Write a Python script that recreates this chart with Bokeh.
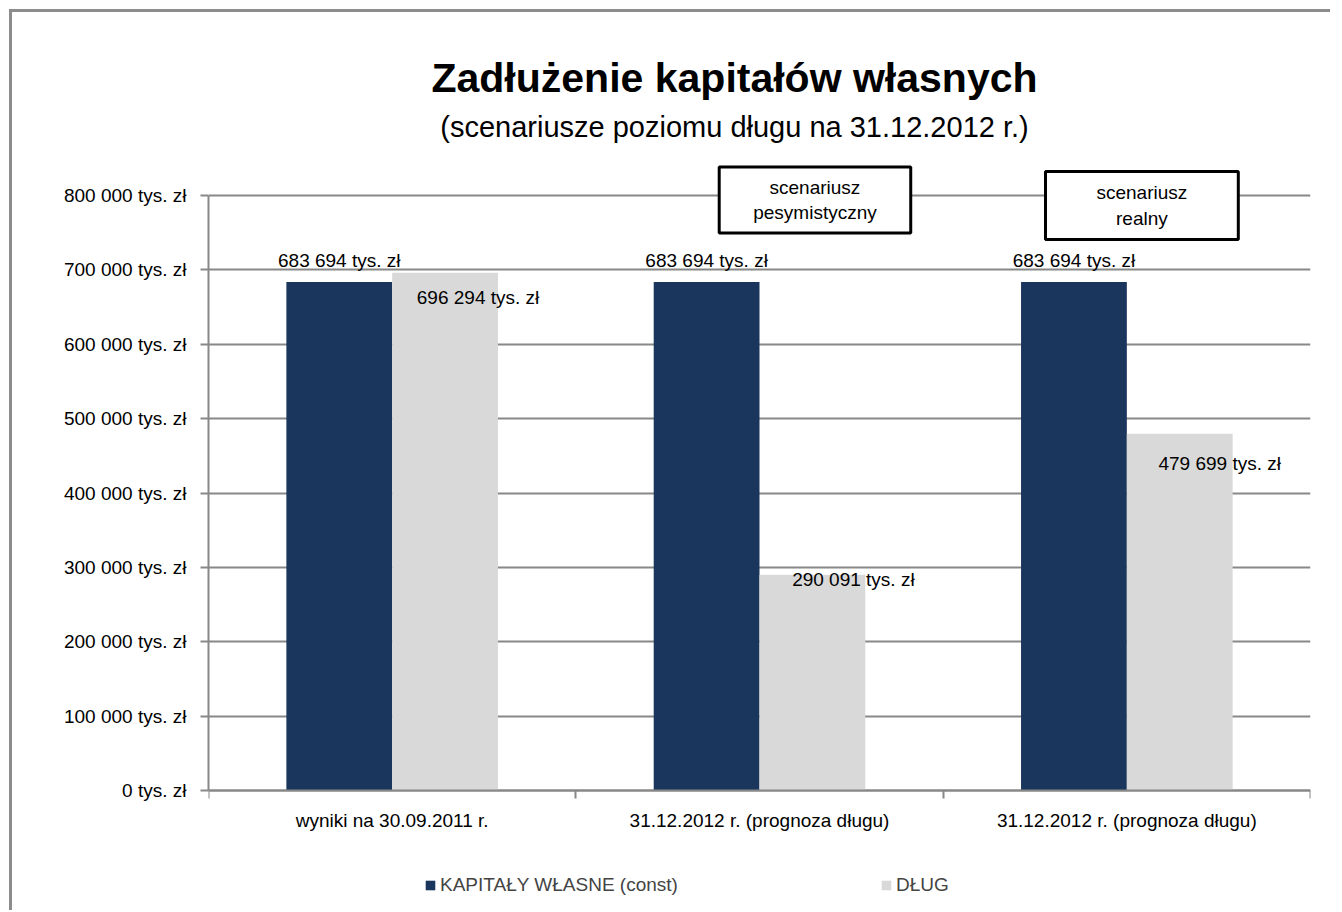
import numpy as np
from bokeh.plotting import figure
from bokeh.models import (ColumnDataSource, Range1d, FixedTicker, LabelSet, Label,
                          Legend, LegendItem)
from bokeh.core.properties import value
from bokeh.embed import file_html
from bokeh.resources import INLINE
from bokeh.transform import dodge

# ---------------- data ----------------
categories = ["wyniki na 30.09.2011 r.",
              "31.12.2012 r. (prognoza długu)",
              "31.12.2012 r. (prognoza długu)"]
kapitaly = [683694, 683694, 683694]
dlug = [696294, 290091, 479699]
kapitaly_labels = ["683 694 tys. zł", "683 694 tys. zł", "683 694 tys. zł"]
dlug_labels = ["696 294 tys. zł", "290 091 tys. zł", "479 699 tys. zł"]
series_names = ["KAPITAŁY WŁASNE (const)", "DŁUG"]
y_ticks = [0, 100000, 200000, 300000, 400000, 500000, 600000, 700000, 800000]
y_tick_labels = ["0 tys. zł", "100 000 tys. zł", "200 000 tys. zł", "300 000 tys. zł",
                 "400 000 tys. zł", "500 000 tys. zł", "600 000 tys. zł",
                 "700 000 tys. zł", "800 000 tys. zł"]
scenario_notes = ["scenariusz\npesymistyczny", "scenariusz\nrealny"]
title_text = "Zadłużenie kapitałów własnych"
subtitle_text = "(scenariusze poziomu długu na 31.12.2012 r.)"

# ---------------- styles / layout ----------------
FONT = "Liberation Sans"
NAVY = "#1b365d"
LIGHT = "#d9d9d9"
GRID = "#888888"
BAR_W = 0.288
Y_AXIS_MAX = 800000
PLOT_H = 595          # pixel height of the 0..800000 band
ABOVE_H = 183         # frame space above the band (title, notes)
BELOW_H = 120         # frame space below the band (axis labels, legend)
FRAME_H = PLOT_H + ABOVE_H + BELOW_H
Y_TOP = Y_AXIS_MAX * (PLOT_H + ABOVE_H) / PLOT_H
Y_BOTTOM = -Y_AXIS_MAX * BELOW_H / PLOT_H
dlug_label_dx = [33, 41, 40]
dlug_label_dy = [-25, -5, -30]


def y_at(px_from_axis_bottom):
    """data value for a pixel distance above the x axis"""
    return Y_AXIS_MAX * px_from_axis_bottom / PLOT_H


x_pos = list(np.arange(len(categories)) + 0.5)
src = ColumnDataSource(dict(x=x_pos, cap=kapitaly, dlug=dlug,
                            cap_lab=kapitaly_labels, dlug_lab=dlug_labels,
                            dx=dlug_label_dx, dy=dlug_label_dy))

p = figure(frame_width=1102, frame_height=FRAME_H, title=None,
           min_border_left=196, min_border_top=0, min_border_right=20, min_border_bottom=0,
           x_range=Range1d(0, len(categories)), y_range=Range1d(Y_BOTTOM, Y_TOP),
           output_backend="svg", toolbar_location=None, tools="")
p.styles = {"margin-left": "9px", "margin-top": "9px",
            "border-top": "3px solid #8c8c8c", "border-left": "3px solid #8c8c8c"}
p.outline_line_color = None
p.xgrid.visible = False
p.ygrid.grid_line_color = GRID
p.ygrid.grid_line_width = 2
p.ygrid.ticker = FixedTicker(ticks=y_ticks)

r1 = p.vbar(x=dodge("x", -BAR_W / 2), top="cap", width=BAR_W, source=src,
            fill_color=NAVY, line_color=None)
r2 = p.vbar(x=dodge("x", BAR_W / 2), top="dlug", width=BAR_W, source=src,
            fill_color=LIGHT, line_color=None)

# y axis
ya = p.yaxis[0]
ya.ticker = FixedTicker(ticks=y_ticks, minor_ticks=[])
ya.bounds = (0, Y_AXIS_MAX)
ya.major_label_overrides = dict(zip(y_ticks, y_tick_labels))
ya.axis_line_color = GRID
ya.axis_line_width = 2
ya.major_tick_line_color = GRID
ya.major_tick_line_width = 2
ya.major_tick_out = 8
ya.major_tick_in = 0
ya.minor_tick_line_color = None
ya.major_label_standoff = 14
ya.major_label_text_font = FONT
ya.major_label_text_font_size = "19px"
ya.major_label_text_color = "black"

# x axis (drawn at y = 0)
xa = p.xaxis[0]
xa.fixed_location = 0
xa.ticker = FixedTicker(ticks=x_pos, minor_ticks=list(range(len(categories) + 1)))
xa.major_label_overrides = dict(zip(x_pos, categories))
xa.axis_line_color = GRID
xa.axis_line_width = 2
xa.major_tick_line_color = None
xa.major_tick_out = 0
xa.major_tick_in = 0
xa.minor_tick_line_color = GRID
xa.minor_tick_line_width = 2
xa.minor_tick_out = 8
xa.minor_tick_in = 0
xa.major_label_standoff = 11
xa.major_label_text_font = FONT
xa.major_label_text_font_size = "19px"
xa.major_label_text_color = "black"

# value labels
p.add_layout(LabelSet(x=dodge("x", -BAR_W / 2), y="cap", text="cap_lab", source=src,
                      text_align="center", text_baseline="middle", y_offset=22,
                      text_font=value(FONT), text_font_size="19px", text_color="black"))
p.add_layout(LabelSet(x=dodge("x", BAR_W / 2), y="dlug", text="dlug_lab", source=src,
                      text_align="center", text_baseline="middle",
                      x_offset="dx", y_offset="dy",
                      text_font=value(FONT), text_font_size="19px", text_color="black"))

# titles
p.add_layout(Label(x=1.5, y=y_at(790 - 77), x_offset=-25, text=title_text,
                   text_align="center", text_baseline="alphabetic",
                   text_font=FONT, text_font_style="bold",
                   text_font_size="41px", text_color="black"))
p.add_layout(Label(x=1.5, y=y_at(790 - 126), x_offset=-25, text=subtitle_text,
                   text_align="center", text_baseline="alphabetic",
                   text_font=FONT, text_font_size="29px", text_color="black"))

# scenario boxes
for (bx, by, pad), note in zip([(1.651, y_at(790 - 199.5), (34, 10)),
                                (2.541, y_at(790 - 205), (51, 11))],
                               scenario_notes):
    p.add_layout(Label(x=bx, y=by, text=note, text_align="center", text_baseline="middle",
                       text_font=FONT, text_font_size="19px", text_color="black",
                       background_fill_color="white", border_line_color="black",
                       border_line_width=3, padding=pad))

legend = Legend(items=[LegendItem(label=series_names[0], renderers=[r1]),
                       LegendItem(label=series_names[1], renderers=[r2])],
                orientation="horizontal", location=(216, 14), spacing=202,
                glyph_width=12, glyph_height=12, label_standoff=4, padding=0, margin=0,
                border_line_color=None, background_fill_alpha=0,
                label_text_font=FONT, label_text_font_size="19px", label_height=20)
p.add_layout(legend, "center")

open("out.html", "w").write(file_html(p, INLINE))
